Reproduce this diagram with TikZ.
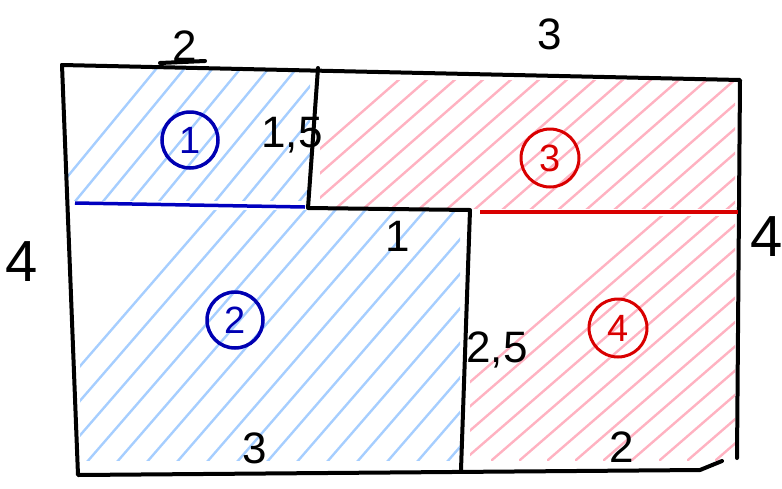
\documentclass[tikz,border=0pt]{standalone}
\usepackage{fontspec}
\setmainfont{Liberation Sans}
\begin{document}
\begin{tikzpicture}[x=1pt,y=-1pt,
  edge/.style={line width=4pt,black,line cap=round,line join=round},
  bluehatch/.style={line width=2.4pt,blue!55!cyan,opacity=0.35,line cap=round},
  redhatch/.style={line width=2.4pt,red!80!magenta,opacity=0.3,line cap=round},
  dim/.style={font=\fontsize{44}{50}\selectfont,inner sep=0pt},
  bigdim/.style={font=\fontsize{58}{64}\selectfont,inner sep=0pt},
  bluecirc/.style={circle,draw=blue!70!black,line width=3.5pt,text=blue!70!black,font=\fontsize{38}{42}\selectfont,minimum size=56pt,inner sep=0pt},
  redcirc/.style={circle,draw=red!85!black,line width=3pt,text=red!85!black,font=\fontsize{38}{42}\selectfont,minimum size=58pt,inner sep=0pt}]
\useasboundingbox (0,0) rectangle (782,488);
% hatching region 1
\begin{scope}
\clip (66,68) rectangle (310,200);
\foreach \i in {40,68,...,420} \draw[bluehatch] (\i,210) -- ++(140,-170);
\end{scope}
% hatching region 2
\begin{scope}
\clip (80,210) rectangle (460,460);
\foreach \i in {-10,20,...,620} \draw[bluehatch] (\i,470) -- ++(260,-300);
\end{scope}
% hatching region 3
\begin{scope}
\clip (320,80) rectangle (735,208);
\foreach \i in {250,278,...,800} \draw[redhatch] (\i,210) -- ++(160,-140);
\end{scope}
% hatching region 4
\begin{scope}
\clip (470,216) rectangle (735,460);
\foreach \i in {380,408,...,900} \draw[redhatch] (\i,460) -- ++(300,-260);
\end{scope}
% outline
\coordinate (tl) at (62,65);
\coordinate (tr) at (740,80);
\coordinate (br) at (737,458);
\coordinate (bl) at (78,475);
\draw[edge] (tl) -- (tr) -- (br);
\draw[edge] (tl) -- (bl) -- (700,470) -- (722,461);
% inner lines
\coordinate (v1t) at (318,68);
\coordinate (v1b) at (308,208);
\coordinate (s1) at (470,210);
\coordinate (s2) at (461,470);
\draw[edge] (v1t) -- (v1b) -- (s1) -- (s2);
\draw[line width=3.5pt,blue!75!black] (75,203) -- (305,207);
\draw[line width=3.5pt,red!85!black] (480,212) -- (738,212);
% dimensions
\node[dim] (d2top) at (185,46) {2};
\draw[edge] (160,63) -- (205,61);
\node[dim] (d3top) at (550,34) {3};
\node[bigdim] (d4l) at (22,262) {4};
\node[bigdim,anchor=west] (d4r) at (750,237) {4};
\node[dim] (d15) at (292,135) {1,5};
\node[dim] (d1) at (398,236) {1};
\node[dim] (d25) at (497,350) {2,5};
\node[dim] (d3b) at (255,448) {3};
\node[dim] (d2b) at (622,447) {2};
% circled numbers
\node[bluecirc] (c1) at (190,140) {1};
\node[bluecirc] (c2) at (235,320) {2};
\node[redcirc] (c3) at (550,158) {3};
\node[redcirc] (c4) at (618,328) {4};
\end{tikzpicture}
\end{document}
